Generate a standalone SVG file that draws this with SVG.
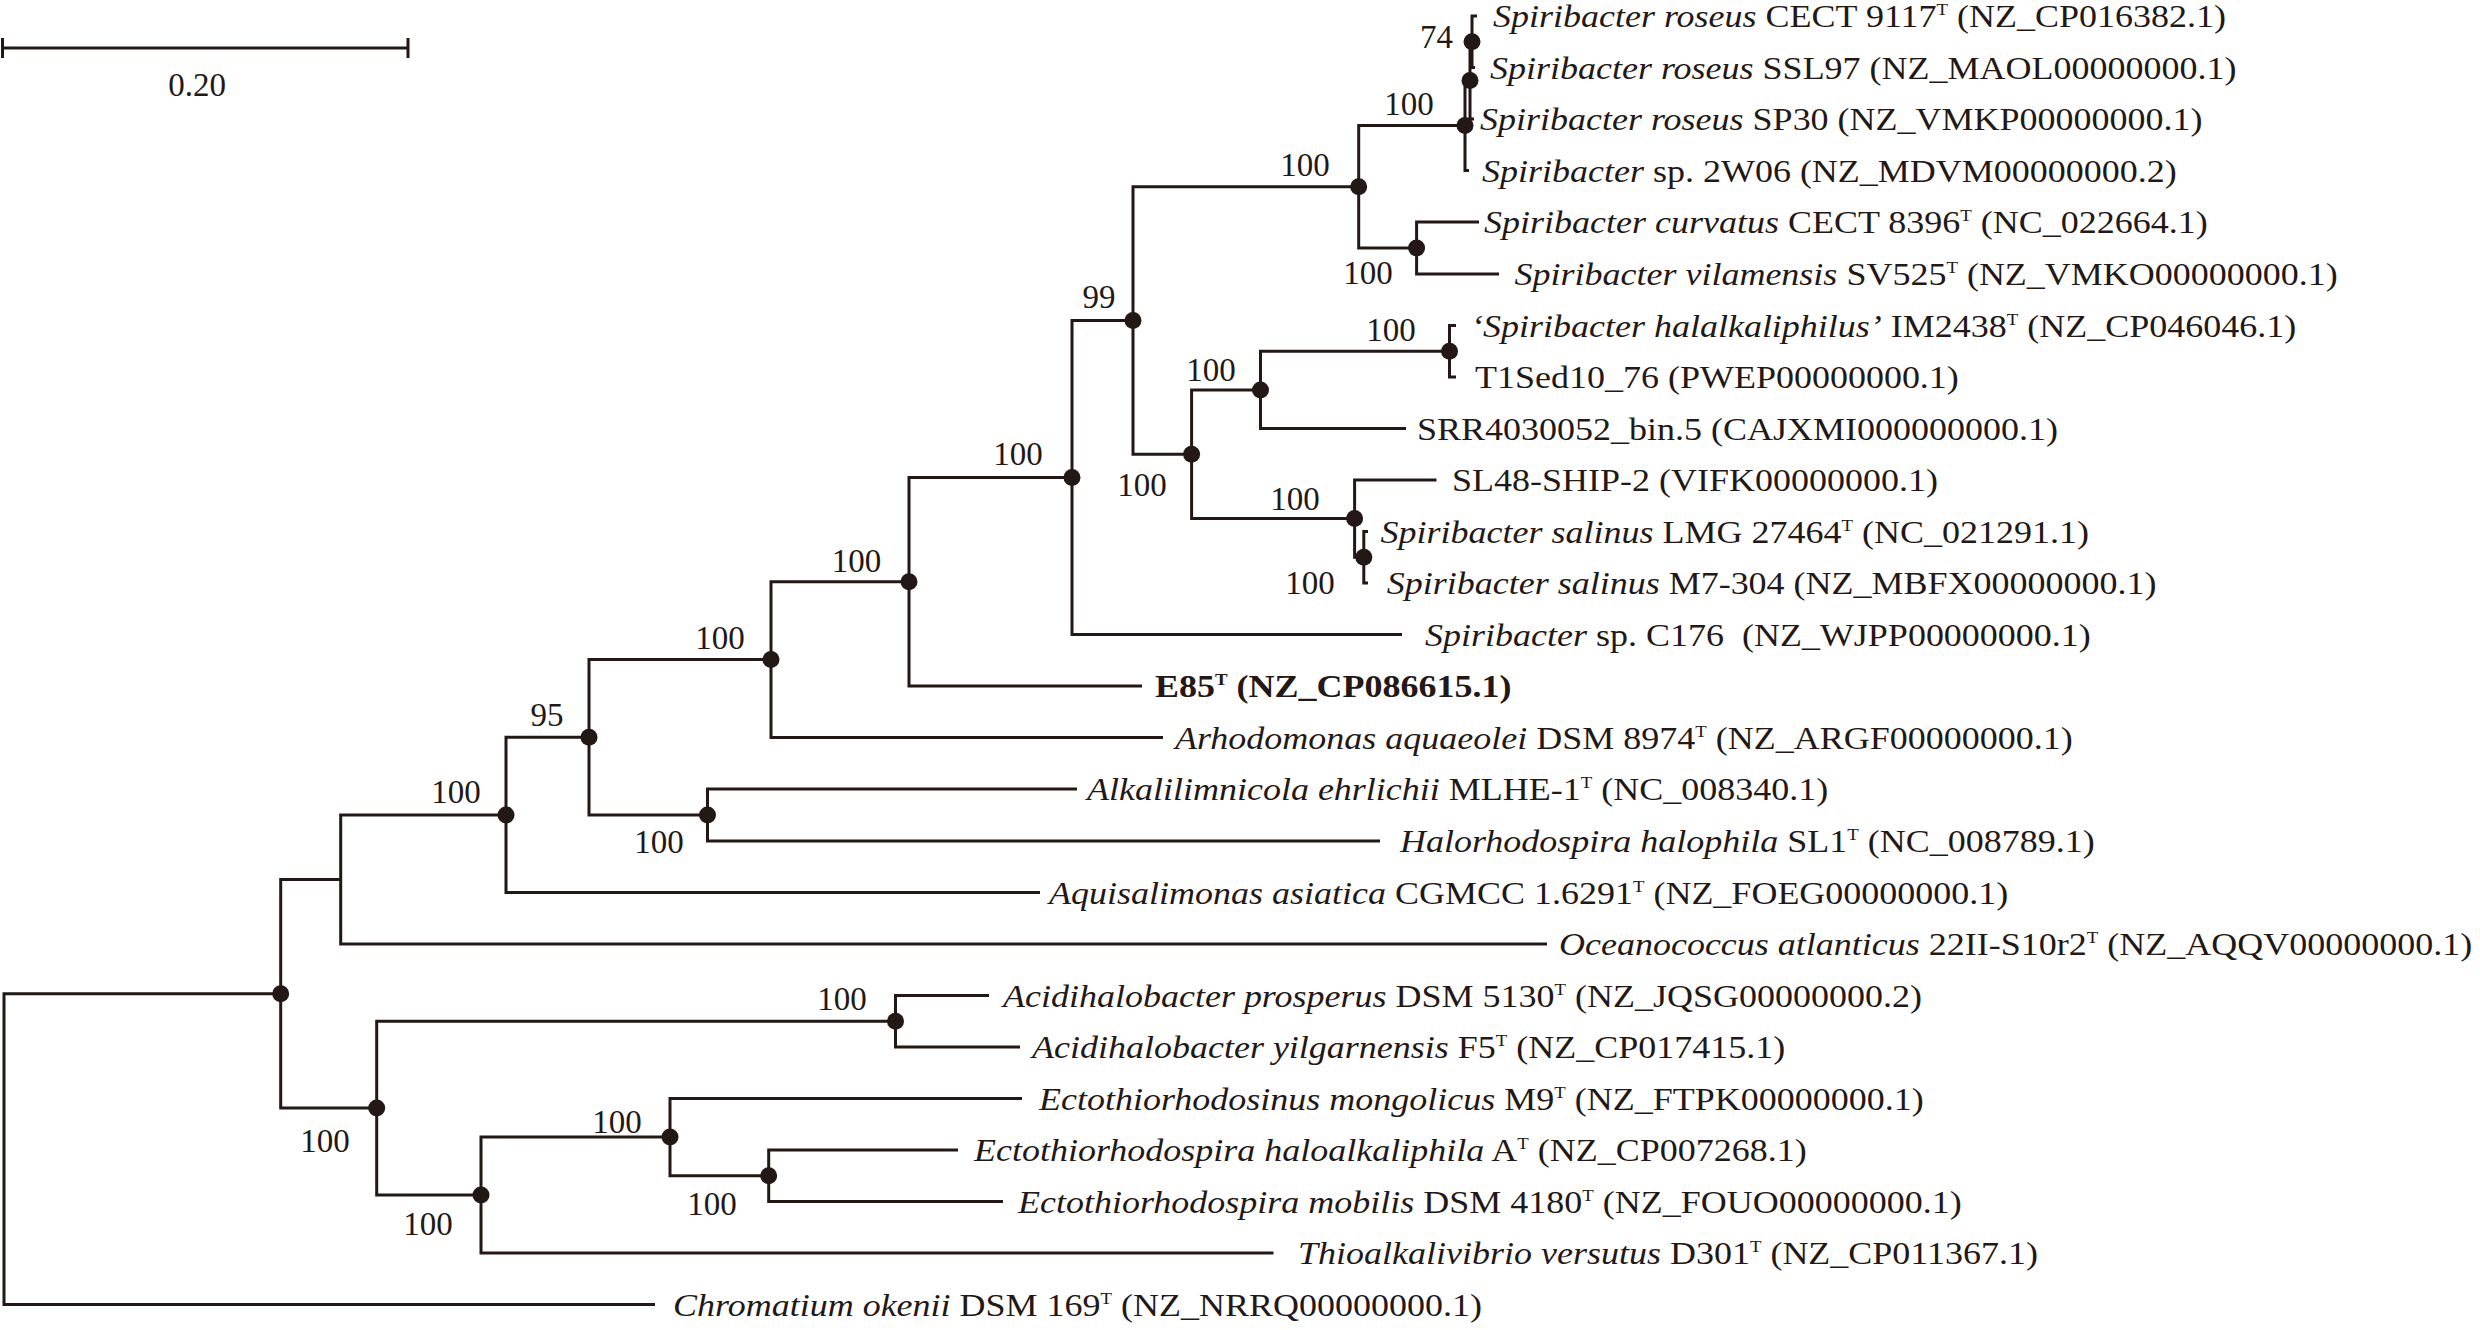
<svg xmlns="http://www.w3.org/2000/svg" width="2480" height="1330" viewBox="0 0 2480 1330">
<defs>
<style>
.br{fill:none;stroke:#231815;stroke-width:3;stroke-linejoin:miter}
.dot{fill:#231815}
.lf{font-family:"Liberation Serif","Times New Roman",serif;font-size:32.5px;fill:#231815}
.bs{font-family:"Liberation Serif","Times New Roman",serif;font-size:33px;fill:#231815;text-anchor:middle}
.i{font-style:italic}
.sup{font-size:17px}
.b{font-weight:bold}
</style>
</defs>
<rect width="2480" height="1330" fill="#ffffff"/>
<g id="scale-bar">
<path class="br" d="M2.5,48 H408 M2.5,38 V58 M408,38 V58"/>
<text class="bs" x="197" y="96">0.20</text>
</g>
<g id="connectors">
<path class="br" d="M280.7,993.75 H4 V1304.5 H655"/>
<path class="br" d="M340.7,879.4 H280.7 V1108.1 H376.7"/>
<path class="br" d="M506,814.9 H340.7 V944 H1547"/>
<path class="br" d="M589,737.3 H506 V892.5 H1040"/>
<path class="br" d="M771,659.6 H589 V815 H707.5"/>
<path class="br" d="M1077,789 H707.5 V841 H1380"/>
<path class="br" d="M909,581.75 H771 V737.5 H1163"/>
<path class="br" d="M1072,477.5 H909 V686 H1142"/>
<path class="br" d="M1133,320.5 H1072 V634.5 H1402"/>
<path class="br" d="M1358.7,186.7 H1133 V454.25 H1191.6"/>
<path class="br" d="M1465,125.4 H1358.7 V248 H1416.6"/>
<path class="br" d="M1479,222 H1416.6 V274 H1499"/>
<path class="br" d="M1470,80.4 H1465 V170.5 H1469"/>
<path class="br" d="M1472,41.75 H1470 V119 H1474"/>
<path class="br" d="M1477,16 H1472 V67.5 H1475"/>
<path class="br" d="M1260.5,389.9 H1191.6 V518.6 H1354.6"/>
<path class="br" d="M1449.5,351.25 H1260.5 V428.5 H1406"/>
<path class="br" d="M1456,325.5 H1449.5 V377 H1456"/>
<path class="br" d="M1436.5,480 H1354.6 V557.25 H1363.8"/>
<path class="br" d="M1368,531.5 H1363.8 V583 H1368"/>
<path class="br" d="M895.5,1021.25 H376.7 V1195 H481"/>
<path class="br" d="M989,995.5 H895.5 V1047 H1020"/>
<path class="br" d="M670,1137.1 H481 V1253 H1273.5"/>
<path class="br" d="M1022,1098.5 H670 V1175.75 H768.7"/>
<path class="br" d="M958,1150 H768.7 V1201.5 H1003"/>
</g>
<g id="internal-nodes">
<g id="n-r1"><circle class="dot" cx="1472" cy="41.75" r="8.5"/><text class="bs" x="1436.5" y="48">74</text></g>
<g id="n-r2"><circle class="dot" cx="1470" cy="80.4" r="8.5"/></g>
<g id="n-r3"><circle class="dot" cx="1465" cy="125.4" r="8.5"/><text class="bs" x="1409" y="115">100</text></g>
<g id="n-spiri-a"><circle class="dot" cx="1358.7" cy="186.7" r="8.5"/><text class="bs" x="1305" y="176">100</text></g>
<g id="n-curv"><circle class="dot" cx="1416.6" cy="248" r="8.5"/><text class="bs" x="1368" y="284">100</text></g>
<g id="n-spiri-99"><circle class="dot" cx="1133" cy="320.5" r="8.5"/><text class="bs" x="1099" y="308">99</text></g>
<g id="n-halalk"><circle class="dot" cx="1449.5" cy="351.25" r="8.5"/><text class="bs" x="1391" y="341">100</text></g>
<g id="n-srr"><circle class="dot" cx="1260.5" cy="389.9" r="8.5"/><text class="bs" x="1211" y="381">100</text></g>
<g id="n-spiri-b"><circle class="dot" cx="1191.6" cy="454.25" r="8.5"/><text class="bs" x="1142" y="496">100</text></g>
<g id="n-spiri-all"><circle class="dot" cx="1072" cy="477.5" r="8.5"/><text class="bs" x="1018" y="465">100</text></g>
<g id="n-sl48"><circle class="dot" cx="1354.6" cy="518.6" r="8.5"/><text class="bs" x="1295" y="510">100</text></g>
<g id="n-salinus"><circle class="dot" cx="1363.8" cy="557.25" r="8.5"/><text class="bs" x="1310" y="594">100</text></g>
<g id="n-e85"><circle class="dot" cx="909" cy="581.75" r="8.5"/><text class="bs" x="856.5" y="572">100</text></g>
<g id="n-arho"><circle class="dot" cx="771" cy="659.6" r="8.5"/><text class="bs" x="720" y="649">100</text></g>
<g id="n-95"><circle class="dot" cx="589" cy="737.3" r="8.5"/><text class="bs" x="547" y="726">95</text></g>
<g id="n-aquis"><circle class="dot" cx="506" cy="814.9" r="8.5"/><text class="bs" x="456" y="803">100</text></g>
<g id="n-alkal"><circle class="dot" cx="707.5" cy="815" r="8.5"/><text class="bs" x="659" y="853">100</text></g>
<g id="n-root-child"><circle class="dot" cx="280.7" cy="993.75" r="8.5"/></g>
<g id="n-acidi"><circle class="dot" cx="895.5" cy="1021.25" r="8.5"/><text class="bs" x="842" y="1010">100</text></g>
<g id="n-lower"><circle class="dot" cx="376.7" cy="1108.1" r="8.5"/><text class="bs" x="325" y="1152">100</text></g>
<g id="n-thio"><circle class="dot" cx="481" cy="1195" r="8.5"/><text class="bs" x="428" y="1235">100</text></g>
<g id="n-ecto"><circle class="dot" cx="670" cy="1137.1" r="8.5"/><text class="bs" x="617" y="1133">100</text></g>
<g id="n-ectospira"><circle class="dot" cx="768.7" cy="1175.75" r="8.5"/><text class="bs" x="712" y="1215">100</text></g>
</g>
<g id="leaves">
<g id="leaf-01"><text class="lf" transform="translate(1493,27) scale(1.108,1)"><tspan class="i">Spiribacter roseus</tspan><tspan> CECT 9117</tspan><tspan class="sup" dy="-12">T</tspan><tspan dy="12"> (NZ_CP016382.1)</tspan></text></g>
<g id="leaf-02"><text class="lf" transform="translate(1490,78.5) scale(1.108,1)"><tspan class="i">Spiribacter roseus</tspan><tspan> SSL97 (NZ_MAOL00000000.1)</tspan></text></g>
<g id="leaf-03"><text class="lf" transform="translate(1480,130) scale(1.108,1)"><tspan class="i">Spiribacter roseus</tspan><tspan> SP30 (NZ_VMKP00000000.1)</tspan></text></g>
<g id="leaf-04"><text class="lf" transform="translate(1482,181.5) scale(1.108,1)"><tspan class="i">Spiribacter</tspan><tspan> sp. 2W06 (NZ_MDVM00000000.2)</tspan></text></g>
<g id="leaf-05"><text class="lf" transform="translate(1484,233) scale(1.108,1)"><tspan class="i">Spiribacter curvatus</tspan><tspan> CECT 8396</tspan><tspan class="sup" dy="-12">T</tspan><tspan dy="12"> (NC_022664.1)</tspan></text></g>
<g id="leaf-06"><text class="lf" transform="translate(1514.5,285) scale(1.108,1)"><tspan class="i">Spiribacter vilamensis</tspan><tspan> SV525</tspan><tspan class="sup" dy="-12">T</tspan><tspan dy="12"> (NZ_VMKO00000000.1)</tspan></text></g>
<g id="leaf-07"><text class="lf" transform="translate(1471,336.5) scale(1.108,1)"><tspan class="i">‘Spiribacter halalkaliphilus’</tspan><tspan> IM2438</tspan><tspan class="sup" dy="-12">T</tspan><tspan dy="12"> (NZ_CP046046.1)</tspan></text></g>
<g id="leaf-08"><text class="lf" transform="translate(1475,388) scale(1.108,1)">T1Sed10_76 (PWEP00000000.1)</text></g>
<g id="leaf-09"><text class="lf" transform="translate(1417,439.5) scale(1.108,1)">SRR4030052_bin.5 (CAJXMI000000000.1)</text></g>
<g id="leaf-10"><text class="lf" transform="translate(1452,491) scale(1.108,1)">SL48-SHIP-2 (VIFK00000000.1)</text></g>
<g id="leaf-11"><text class="lf" transform="translate(1380.6,542.5) scale(1.108,1)"><tspan class="i">Spiribacter salinus</tspan><tspan> LMG 27464</tspan><tspan class="sup" dy="-12">T</tspan><tspan dy="12"> (NC_021291.1)</tspan></text></g>
<g id="leaf-12"><text class="lf" transform="translate(1386.7,594) scale(1.108,1)"><tspan class="i">Spiribacter salinus</tspan><tspan> M7-304 (NZ_MBFX00000000.1)</tspan></text></g>
<g id="leaf-13"><text class="lf" xml:space="preserve" transform="translate(1425,645.5) scale(1.108,1)"><tspan class="i">Spiribacter</tspan><tspan> sp. C176  (NZ_WJPP00000000.1)</tspan></text></g>
<g id="leaf-14"><text class="lf b" transform="translate(1155,697) scale(1.108,1)"><tspan>E85</tspan><tspan class="sup" dy="-12">T</tspan><tspan dy="12"> (NZ_CP086615.1)</tspan></text></g>
<g id="leaf-15"><text class="lf" transform="translate(1175,748.5) scale(1.108,1)"><tspan class="i">Arhodomonas aquaeolei</tspan><tspan> DSM 8974</tspan><tspan class="sup" dy="-12">T</tspan><tspan dy="12"> (NZ_ARGF00000000.1)</tspan></text></g>
<g id="leaf-16"><text class="lf" transform="translate(1087,800) scale(1.108,1)"><tspan class="i">Alkalilimnicola ehrlichii</tspan><tspan> MLHE-1</tspan><tspan class="sup" dy="-12">T</tspan><tspan dy="12"> (NC_008340.1)</tspan></text></g>
<g id="leaf-17"><text class="lf" transform="translate(1400,852) scale(1.108,1)"><tspan class="i">Halorhodospira halophila</tspan><tspan> SL1</tspan><tspan class="sup" dy="-12">T</tspan><tspan dy="12"> (NC_008789.1)</tspan></text></g>
<g id="leaf-18"><text class="lf" transform="translate(1049,903.5) scale(1.108,1)"><tspan class="i">Aquisalimonas asiatica</tspan><tspan> CGMCC 1.6291</tspan><tspan class="sup" dy="-12">T</tspan><tspan dy="12"> (NZ_FOEG00000000.1)</tspan></text></g>
<g id="leaf-19"><text class="lf" transform="translate(1559,955) scale(1.108,1)"><tspan class="i">Oceanococcus atlanticus</tspan><tspan> 22II-S10r2</tspan><tspan class="sup" dy="-12">T</tspan><tspan dy="12"> (NZ_AQQV00000000.1)</tspan></text></g>
<g id="leaf-20"><text class="lf" transform="translate(1003,1006.5) scale(1.108,1)"><tspan class="i">Acidihalobacter prosperus</tspan><tspan> DSM 5130</tspan><tspan class="sup" dy="-12">T</tspan><tspan dy="12"> (NZ_JQSG00000000.2)</tspan></text></g>
<g id="leaf-21"><text class="lf" transform="translate(1032,1058) scale(1.108,1)"><tspan class="i">Acidihalobacter yilgarnensis</tspan><tspan> F5</tspan><tspan class="sup" dy="-12">T</tspan><tspan dy="12"> (NZ_CP017415.1)</tspan></text></g>
<g id="leaf-22"><text class="lf" transform="translate(1039,1109.5) scale(1.108,1)"><tspan class="i">Ectothiorhodosinus mongolicus</tspan><tspan> M9</tspan><tspan class="sup" dy="-12">T</tspan><tspan dy="12"> (NZ_FTPK00000000.1)</tspan></text></g>
<g id="leaf-23"><text class="lf" transform="translate(974,1161) scale(1.108,1)"><tspan class="i">Ectothiorhodospira haloalkaliphila</tspan><tspan> A</tspan><tspan class="sup" dy="-12">T</tspan><tspan dy="12"> (NZ_CP007268.1)</tspan></text></g>
<g id="leaf-24"><text class="lf" transform="translate(1018,1212.5) scale(1.108,1)"><tspan class="i">Ectothiorhodospira mobilis</tspan><tspan> DSM 4180</tspan><tspan class="sup" dy="-12">T</tspan><tspan dy="12"> (NZ_FOUO00000000.1)</tspan></text></g>
<g id="leaf-25"><text class="lf" transform="translate(1298,1264) scale(1.108,1)"><tspan class="i">Thioalkalivibrio versutus</tspan><tspan> D301</tspan><tspan class="sup" dy="-12">T</tspan><tspan dy="12"> (NZ_CP011367.1)</tspan></text></g>
<g id="leaf-26"><text class="lf" transform="translate(673,1315.5) scale(1.108,1)"><tspan class="i">Chromatium okenii</tspan><tspan> DSM 169</tspan><tspan class="sup" dy="-12">T</tspan><tspan dy="12"> (NZ_NRRQ00000000.1)</tspan></text></g>
</g>
</svg>
